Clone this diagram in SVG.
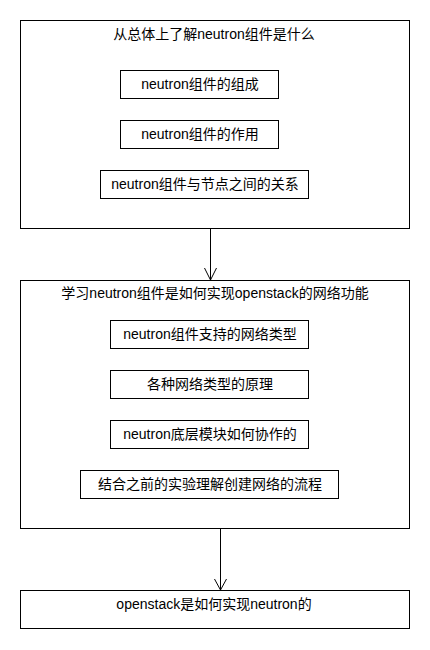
<svg xmlns="http://www.w3.org/2000/svg" width="430" height="650" viewBox="0 0 430 650">
<style>
rect{fill:#fff;stroke:#000;stroke-width:1}
text{font-family:"Liberation Sans","Noto Sans CJK SC",sans-serif;font-size:14px;fill:#000;text-anchor:middle}
.c{fill:none;stroke:#000;stroke-width:1}
</style>
<rect x="0" y="0" width="430" height="650" style="stroke:none"/>
<g id="group1">
<rect x="20.5" y="20.5" width="389" height="208"/>
<text x="214" y="39">从总体上了解neutron组件是什么</text>
</g>
<g id="n1"><rect x="120.5" y="70.5" width="158" height="28"/><text x="200" y="89">neutron组件的组成</text></g>
<g id="n2"><rect x="120.5" y="120.5" width="158" height="28"/><text x="200" y="139">neutron组件的作用</text></g>
<g id="n3"><rect x="100.5" y="170.5" width="208" height="28"/><text x="205" y="189">neutron组件与节点之间的关系</text></g>
<g id="group2">
<rect x="20.5" y="280.5" width="389" height="248"/>
<text x="215" y="298">学习neutron组件是如何实现openstack的网络功能</text>
</g>
<g id="m1"><rect x="110.5" y="320.5" width="198" height="28"/><text x="210" y="339">neutron组件支持的网络类型</text></g>
<g id="m2"><rect x="110.5" y="370.5" width="198" height="28"/><text x="210" y="389">各种网络类型的原理</text></g>
<g id="m3"><rect x="110.5" y="420.5" width="198" height="28"/><text x="210" y="439">neutron底层模块如何协作的</text></g>
<g id="m4"><rect x="80.5" y="470.5" width="258" height="28"/><text x="210" y="489">结合之前的实验理解创建网络的流程</text></g>
<g id="group3">
<rect x="20.5" y="590.5" width="389" height="38"/>
<text x="214" y="609">openstack是如何实现neutron的</text>
</g>
<g id="connectors">
<path class="c" d="M210.5 229 V280 M204.5 268 L210.5 280 L216.5 268"/>
<path class="c" d="M220.5 529 V590 M214.5 579 L220.5 590 L226.5 579"/>
</g>
</svg>
